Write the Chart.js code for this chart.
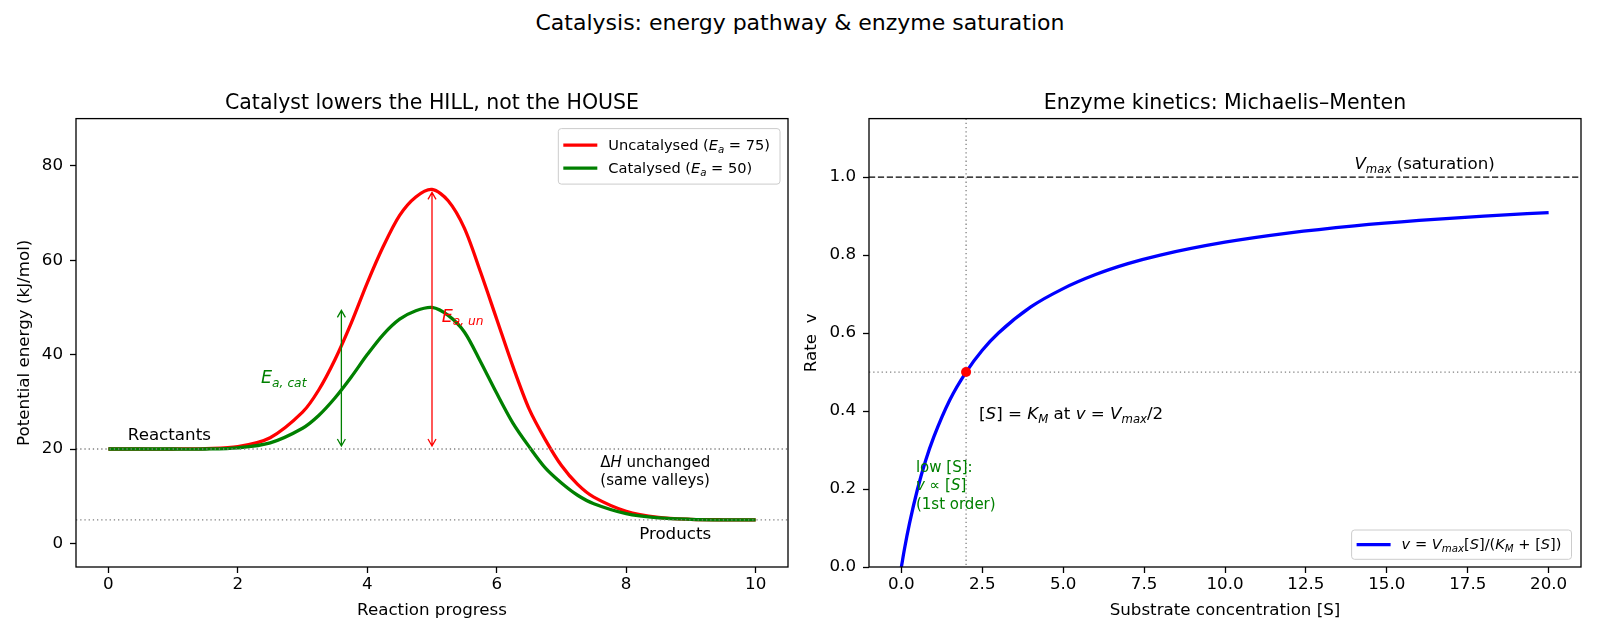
<!DOCTYPE html>
<html>
<head>
<meta charset="utf-8">
<script src="https://cdn.jsdelivr.net/npm/chart.js@4"></script>
<style>
  body { margin: 0; background: #fff; width: 1600px; height: 640px; position: relative; overflow: hidden; font-family: "DejaVu Sans", sans-serif; }
  #sup { position: absolute; left: 0; top: 10px; width: 1600px; text-align: center; font-size: 22px; line-height: 26px; color: #000; }
  canvas { position: absolute; top: 0; }
</style>
</head>
<body>
<div id="sup">Catalysis: energy pathway &amp; enzyme saturation</div>
<canvas id="energy" width="800" height="640" style="left:0"></canvas>
<canvas id="kinetics" width="810" height="640" style="left:790px"></canvas>
<script>
// --- energy profile (left panel) ---
const progress = [0, 0.5, 1, 1.5, 2, 2.5, 3, 3.25, 3.5, 3.75, 4, 4.25, 4.5, 4.75, 5, 5.25, 5.5, 5.75, 6, 6.25, 6.5, 6.75, 7, 7.25, 7.5, 8, 8.5, 9, 9.5, 10];
const uncatalysed = [20, 20, 20, 20.1, 20.5, 22.4, 27.8, 32.5, 38.9, 46.6, 55.2, 63.0, 69.5, 73.4, 75, 72.6, 66.8, 57.5, 47.5, 37.5, 28.5, 22.0, 16.5, 12.5, 9.8, 6.8, 5.5, 5.1, 5.0, 5.0];
const catalysed = [20, 20, 20, 20, 20.25, 21.3, 24.4, 27.1, 30.8, 35.2, 40.0, 44.3, 47.5, 49.3, 50, 48.3, 44.8, 38.5, 31.8, 25.5, 20.5, 16.0, 12.8, 10.2, 8.4, 6.3, 5.4, 5.1, 5.0, 5.0];
const progressTicks = [0, 2, 4, 6, 8, 10];
const energyTicks = [0, 20, 40, 60, 80];
const reactantLevel = 20;
const productLevel = 5;
const peakUncat = 75;
const peakCat = 50;
const peakX = 5;
const catArrowX = 3.6;

// --- Michaelis-Menten (right panel) ---
const substrate = [0, 0.1, 0.25, 0.5, 0.75, 1, 1.5, 2, 2.5, 3, 4, 5, 6, 7, 8, 10, 12, 14, 16, 18, 20];
const rate = [0, 0.048, 0.111, 0.2, 0.273, 0.333, 0.429, 0.5, 0.556, 0.6, 0.667, 0.714, 0.75, 0.778, 0.8, 0.833, 0.857, 0.875, 0.889, 0.9, 0.909];
const substrateTicks = [0, 2.5, 5, 7.5, 10, 12.5, 15, 17.5, 20];
const rateTicks = [0, 0.2, 0.4, 0.6, 0.8, 1.0];
const KM = 2;
const VMAX = 1;

const FONT = '"DejaVu Sans", sans-serif';
Chart.defaults.font.family = FONT;
Chart.defaults.color = '#000';

// text made of runs: [text, style] with style 'i' italic, 's' subscript
function layoutRuns(ctx, parts, size) {
  let w = 0;
  const out = parts.map(([t, st]) => {
    const it = st.includes('i'), sub = st.includes('s');
    const fs = sub ? size * 0.7 : size;
    const font = (it ? 'italic ' : '') + fs + 'px ' + FONT;
    ctx.font = font;
    const r = { t, font, dx: w, dy: sub ? size * 0.22 : 0 };
    w += ctx.measureText(t).width;
    return r;
  });
  return { out, w };
}
function drawRich(ctx, parts, x, y, size, color, align) {
  const { out, w } = layoutRuns(ctx, parts, size);
  const x0 = align === 'right' ? x - w : align === 'center' ? x - w / 2 : x;
  ctx.fillStyle = color;
  ctx.textAlign = 'left';
  ctx.textBaseline = 'alphabetic';
  out.forEach(r => { ctx.font = r.font; ctx.fillText(r.t, x0 + r.dx, y + r.dy); });
  return w;
}

function hLine(ctx, a, py, color, lw, dash) {
  ctx.strokeStyle = color; ctx.lineWidth = lw; ctx.setLineDash(dash);
  ctx.beginPath(); ctx.moveTo(a.left, py); ctx.lineTo(a.right, py); ctx.stroke();
}
function vLine(ctx, a, px, color, lw, dash) {
  ctx.strokeStyle = color; ctx.lineWidth = lw; ctx.setLineDash(dash);
  ctx.beginPath(); ctx.moveTo(px, a.top); ctx.lineTo(px, a.bottom); ctx.stroke();
}
function vArrow(ctx, px, yA, yB, color) {
  const s = 3, hl = 7, hw = 4;
  const top = Math.min(yA, yB) + s, bot = Math.max(yA, yB) - s;
  ctx.strokeStyle = color; ctx.lineWidth = 1.3; ctx.setLineDash([]);
  ctx.beginPath();
  ctx.moveTo(px, top); ctx.lineTo(px, bot);
  ctx.moveTo(px - hw, top + hl); ctx.lineTo(px, top); ctx.lineTo(px + hw, top + hl);
  ctx.moveTo(px - hw, bot - hl); ctx.lineTo(px, bot); ctx.lineTo(px + hw, bot - hl);
  ctx.stroke();
}
function legendBox(ctx, items, right, top, bottom, padTop, gap, padBottom) {
  const size = 14.6;
  const widths = items.map(it => layoutRuns(ctx, it.parts, size).w);
  const w = 50 + Math.max(...widths) + 10;
  const h = padTop + gap * (items.length - 1) + padBottom;
  const y0 = top != null ? top : bottom - h;
  const x0 = right - w;
  ctx.setLineDash([]);
  ctx.fillStyle = 'rgba(255,255,255,0.8)';
  ctx.strokeStyle = '#cccccc'; ctx.lineWidth = 1;
  ctx.beginPath(); ctx.roundRect(x0, y0, w, h, 3); ctx.fill(); ctx.stroke();
  items.forEach((it, i) => {
    const cy = y0 + padTop + gap * i;
    ctx.strokeStyle = it.color; ctx.lineWidth = 3.3;
    ctx.beginPath(); ctx.moveTo(x0 + 5, cy); ctx.lineTo(x0 + 39, cy); ctx.stroke();
    drawRich(ctx, it.parts, x0 + 50, cy + size * 0.32, size, '#000', 'left');
  });
}
const frame = {
  id: 'frame',
  afterDraw(chart) {
    const { ctx, chartArea: a } = chart;
    ctx.save();
    ctx.strokeStyle = '#000'; ctx.lineWidth = 1.3; ctx.setLineDash([]);
    ctx.strokeRect(a.left, a.top, a.right - a.left, a.bottom - a.top);
    ctx.restore();
  }
};

function xAxis(min, max, ticks, fmt, label) {
  return {
    type: 'linear', min, max,
    afterBuildTicks: s => { s.ticks = ticks.map(v => ({ value: v })); },
    afterFit: s => { s.height = 73; },
    ticks: { callback: fmt, color: '#000', font: { size: 16.7 }, padding: 2, maxRotation: 0, autoSkip: false },
    grid: { drawOnChartArea: false, drawTicks: true, tickLength: 6, tickColor: '#000', tickWidth: 1.3 },
    border: { display: false },
    title: { display: true, text: label, color: '#000', font: { size: 16.7 }, padding: { top: 0, bottom: 19 } }
  };
}
function yAxis(min, max, ticks, fmt, label, width) {
  return {
    type: 'linear', min, max,
    afterBuildTicks: s => { s.ticks = ticks.map(v => ({ value: v })); },
    afterFit: s => { s.width = width; },
    ticks: { callback: fmt, color: '#000', font: { size: 16.7 }, padding: 7, autoSkip: false },
    grid: { drawOnChartArea: false, drawTicks: true, tickLength: 6, tickColor: '#000', tickWidth: 1.3 },
    border: { display: false },
    title: { display: true, text: label, color: '#000', font: { size: 16.7 }, padding: { top: 7, bottom: 0 } }
  };
}
function titleOpts(text) {
  return { display: true, fullSize: false, text, color: '#000', font: { size: 20.5, weight: 'normal' }, padding: { top: 0, bottom: 3 } };
}

// ---------- left: energy pathway ----------
const energyDecor = {
  id: 'energyDecor',
  afterDatasetsDraw(chart) {
    const { ctx, chartArea: a, scales: { x, y } } = chart;
    ctx.save();
    hLine(ctx, a, y.getPixelForValue(reactantLevel), '#808080', 1.3, [1.3, 2.9]);
    hLine(ctx, a, y.getPixelForValue(productLevel), '#808080', 1.3, [1.3, 2.9]);
    vArrow(ctx, x.getPixelForValue(peakX), y.getPixelForValue(reactantLevel), y.getPixelForValue(peakUncat), '#ff0000');
    vArrow(ctx, x.getPixelForValue(catArrowX), y.getPixelForValue(reactantLevel), y.getPixelForValue(peakCat), '#008000');

    drawRich(ctx, [['E', 'i'], ['a, cat', 'is']], x.getPixelForValue(3.06), y.getPixelForValue(34), 17.5, '#008000', 'right');
    drawRich(ctx, [['E', 'i'], ['a, un', 'is']], x.getPixelForValue(5.15), y.getPixelForValue(47), 17.5, '#ff0000', 'left');
    drawRich(ctx, [['Reactants', '']], x.getPixelForValue(0.3), y.getPixelForValue(22), 16.7, '#000', 'left');
    drawRich(ctx, [['Products', '']], x.getPixelForValue(8.2), y.getPixelForValue(1), 16.7, '#000', 'left');
    const dy = y.getPixelForValue(12.3);
    drawRich(ctx, [['\u0394', ''], ['H', 'i'], [' unchanged', '']], x.getPixelForValue(7.6), dy - 18, 15, '#000', 'left');
    drawRich(ctx, [['(same valleys)', '']], x.getPixelForValue(7.6), dy, 15, '#000', 'left');

    legendBox(ctx, [
      { color: '#ff0000', parts: [['Uncatalysed (', ''], ['E', 'i'], ['a', 'is'], [' = 75)', '']] },
      { color: '#008000', parts: [['Catalysed (', ''], ['E', 'i'], ['a', 'is'], [' = 50)', '']] }
    ], a.right - 8, a.top + 10, null, 16.5, 23, 16);
    ctx.restore();
  }
};

new Chart(document.getElementById('energy').getContext('2d'), {
  type: 'scatter',
  data: {
    datasets: [
      {
        label: 'Uncatalysed', order: 2,
        data: progress.map((p, i) => ({ x: p, y: uncatalysed[i] })),
        showLine: true, borderColor: '#ff0000', borderWidth: 3.3, pointRadius: 0,
        tension: 0.3, fill: false
      },
      {
        label: 'Catalysed', order: 1,
        data: progress.map((p, i) => ({ x: p, y: catalysed[i] })),
        showLine: true, borderColor: '#008000', borderWidth: 3.3, pointRadius: 0,
        tension: 0.3, fill: false
      }
    ]
  },
  options: {
    responsive: false, devicePixelRatio: 1, animation: false, events: [],
    layout: { padding: { left: 8, right: 12, top: 91, bottom: 0 } },
    scales: {
      x: xAxis(-0.5, 10.5, progressTicks, v => String(v), 'Reaction progress'),
      y: yAxis(-5, 90, energyTicks, v => String(v), 'Potential energy (kJ/mol)', 68)
    },
    plugins: {
      legend: { display: false }, tooltip: { enabled: false },
      title: titleOpts('Catalyst lowers the HILL, not the HOUSE')
    }
  },
  plugins: [energyDecor, frame]
});

// ---------- right: enzyme kinetics ----------
const kineticsDecor = {
  id: 'kineticsDecor',
  beforeDatasetsDraw(chart) {
    const { ctx, chartArea: a, scales: { x, y } } = chart;
    ctx.save();
    hLine(ctx, a, y.getPixelForValue(VMAX), '#000', 1.4, [6.2, 2.7]);
    vLine(ctx, a, x.getPixelForValue(KM), '#808080', 1.3, [1.3, 2.9]);
    hLine(ctx, a, y.getPixelForValue(VMAX / 2), '#808080', 1.3, [1.3, 2.9]);
    ctx.restore();
  },
  afterDatasetsDraw(chart) {
    const { ctx, chartArea: a, scales: { x, y } } = chart;
    ctx.save();
    drawRich(ctx, [['V', 'i'], ['max', 'is'], [' (saturation)', '']], x.getPixelForValue(14), y.getPixelForValue(1.02), 16.7, '#000', 'left');
    drawRich(ctx, [['[', ''], ['S', 'i'], ['] = ', ''], ['K', 'i'], ['M', 'is'], [' at ', ''], ['v', 'i'], [' = ', ''], ['V', 'i'], ['max', 'is'], ['/2', '']],
      x.getPixelForValue(2.4), y.getPixelForValue(0.38), 16.7, '#000', 'left');
    const gy = y.getPixelForValue(0.15), gx = x.getPixelForValue(0.45);
    drawRich(ctx, [['low [S]:', '']], gx, gy - 36.6, 15, '#008000', 'left');
    drawRich(ctx, [['v', 'i'], [' \u221d [', ''], ['S', 'i'], [']', '']], gx, gy - 18.3, 15, '#008000', 'left');
    drawRich(ctx, [['(1st order)', '']], gx, gy, 15, '#008000', 'left');

    legendBox(ctx, [
      { color: '#0000ff', parts: [['v', 'i'], [' = ', ''], ['V', 'i'], ['max', 'is'], ['[', ''], ['S', 'i'], [']/(', ''], ['K', 'i'], ['M', 'is'], [' + [', ''], ['S', 'i'], ['])', '']] }
    ], a.right - 9.5, null, a.bottom - 7.7, 14.6, 0, 14.7);
    ctx.restore();
  }
};

new Chart(document.getElementById('kinetics').getContext('2d'), {
  type: 'scatter',
  data: {
    datasets: [
      {
        label: 'v', order: 2,
        data: substrate.map((s, i) => ({ x: s, y: rate[i] })),
        showLine: true, borderColor: '#0000ff', borderWidth: 3.3, pointRadius: 0,
        cubicInterpolationMode: 'monotone', fill: false
      },
      {
        label: 'Km', order: 1,
        data: [{ x: KM, y: VMAX / 2 }],
        showLine: false, pointRadius: 5, backgroundColor: '#ff0000', borderColor: '#ff0000', borderWidth: 0
      }
    ]
  },
  options: {
    responsive: false, devicePixelRatio: 1, animation: false, events: [],
    layout: { padding: { left: 5, right: 19, top: 91, bottom: 0 } },
    scales: {
      x: xAxis(-1, 21, substrateTicks, v => v.toFixed(1), 'Substrate concentration [S]'),
      y: yAxis(0, 1.15, rateTicks, v => v.toFixed(1), 'Rate  v', 74)
    },
    plugins: {
      legend: { display: false }, tooltip: { enabled: false },
      title: titleOpts('Enzyme kinetics: Michaelis\u2013Menten')
    }
  },
  plugins: [kineticsDecor, frame]
});
</script>
</body>
</html>
